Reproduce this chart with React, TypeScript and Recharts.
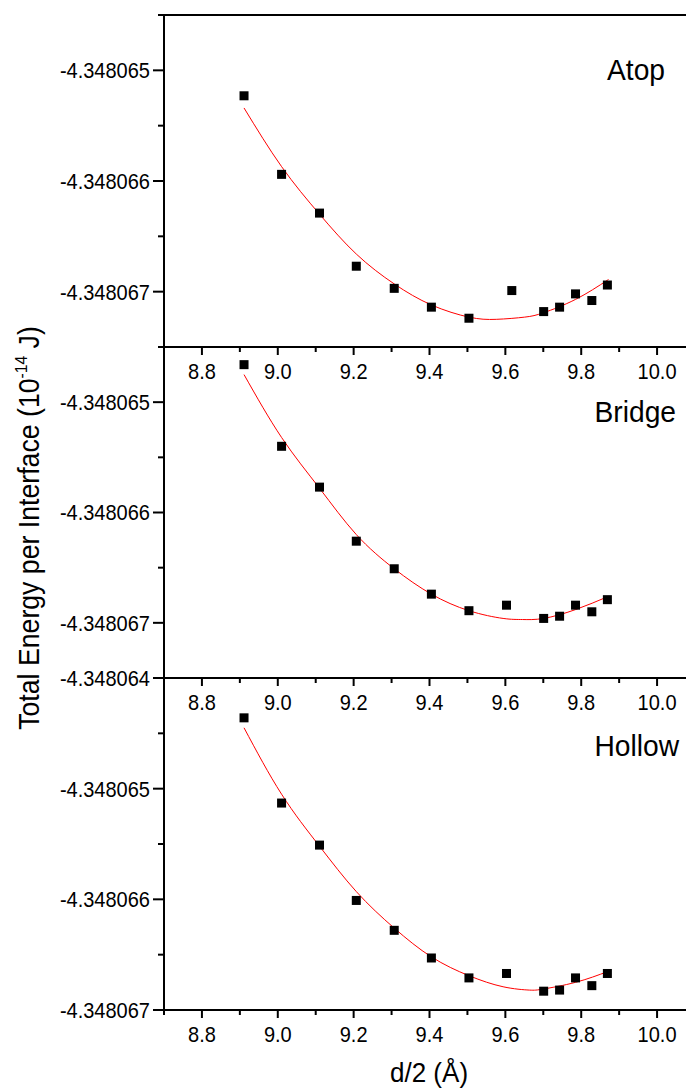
import React from "react";
import { ComposedChart, XAxis, YAxis, Scatter, Line, ReferenceLine } from "recharts";

// ---------- data ----------
const xAtop = [8.911, 9.01, 9.11, 9.207, 9.307, 9.405, 9.504, 9.617, 9.701, 9.743, 9.785, 9.828, 9.869];
const eAtop = [-4.34806523, -4.34806594, -4.34806629, -4.34806677, -4.34806697, -4.34806714, -4.34806724, -4.34806699, -4.34806718, -4.34806714, -4.34806702, -4.34806708, -4.34806694];

const xBridge = [8.911, 9.01, 9.11, 9.207, 9.307, 9.405, 9.504, 9.603, 9.701, 9.743, 9.785, 9.828, 9.869];
const eBridge = [-4.34806466, -4.3480654, -4.34806577, -4.34806626, -4.34806651, -4.34806674, -4.34806689, -4.34806684, -4.34806696, -4.34806694, -4.34806684, -4.3480669, -4.34806679];

const xHollow = [8.911, 9.01, 9.11, 9.207, 9.307, 9.405, 9.504, 9.603, 9.701, 9.743, 9.785, 9.828, 9.869];
const eHollow = [-4.34806436, -4.34806513, -4.34806551, -4.34806601, -4.34806628, -4.34806653, -4.34806671, -4.34806667, -4.34806683, -4.34806682, -4.34806671, -4.34806678, -4.34806667];

const fitXAtop = [8.911, 9.01, 9.11, 9.207, 9.307, 9.405, 9.504, 9.576, 9.651, 9.701, 9.785, 9.872];
const fitEAtop = [-4.34806534, -4.34806587, -4.3480663, -4.34806666, -4.34806693, -4.34806712, -4.34806723, -4.34806725, -4.34806723, -4.34806719, -4.34806707, -4.34806689];

const fitXBridge = [8.911, 9.01, 9.11, 9.207, 9.307, 9.405, 9.504, 9.594, 9.645, 9.701, 9.785, 9.872];
const fitEBridge = [-4.34806475, -4.34806532, -4.34806578, -4.3480662, -4.34806651, -4.34806674, -4.34806689, -4.34806696, -4.34806697, -4.34806696, -4.34806688, -4.34806676];

const fitXHollow = [8.911, 9.01, 9.11, 9.207, 9.307, 9.405, 9.504, 9.594, 9.663, 9.701, 9.785, 9.872];
const fitEHollow = [-4.34806445, -4.34806505, -4.34806552, -4.34806593, -4.34806626, -4.34806652, -4.34806669, -4.34806679, -4.34806682, -4.34806681, -4.34806675, -4.34806665];

const xTicks = [8.7, 8.8, 8.9, 9.0, 9.1, 9.2, 9.3, 9.4, 9.5, 9.6, 9.7, 9.8, 9.9, 10.0, 10.1];
const yTicksUpper = [-4.3480675, -4.348067, -4.3480665, -4.348066, -4.3480655, -4.348065, -4.3480645];
const yTicksHollow = [-4.348067, -4.3480665, -4.348066, -4.3480655, -4.348065, -4.3480645, -4.348064];

const panelLabels = ["Atop", "Bridge", "Hollow"];
const xTitle = "d/2 (Å)";
const yTitleMain = "Total Energy per Interface (10";
const yTitleSup = "-14";
const yTitleEnd = " J)";

// ---------- helpers ----------
const toRows = (xs: number[], es: number[]) => xs.map((x, i) => ({ x, e: es[i] }));
const FONT = "'Liberation Sans', Arial, Helvetica, sans-serif";
const TICK_FS = 22;
const TICK_SX = 0.91;
const LBL_FS = 30;
const LBL_SX = 0.94;

const isMajorY = (v: number) => Math.abs(v * 1e6 - Math.round(v * 1e6)) < 0.01;
const isMajorX = (v: number) => Math.round(v * 10) % 2 === 0;

const YTick = (props: any) => {
  const { x, y, payload } = props;
  const v = payload.value as number;
  const major = isMajorY(v);
  return (
    <g>
      <line x1={x - (major ? 11 : 6)} x2={x} y1={y} y2={y} stroke="#000" strokeWidth={2} />
      {major && (
        <text
          transform={`translate(${x - 14},${y}) scale(${TICK_SX},1)`}
          textAnchor="end"
          dy="0.36em"
          fontSize={TICK_FS}
          fontFamily={FONT}
          fill="#000"
        >
          {v.toFixed(6)}
        </text>
      )}
    </g>
  );
};

const XTick = (props: any) => {
  const { x, y, payload } = props;
  const v = payload.value as number;
  const major = isMajorX(v);
  return (
    <g>
      <line x1={x} x2={x} y1={y} y2={y + (major ? 8 : 5)} stroke="#000" strokeWidth={2} />
      {major && (
        <text
          transform={`translate(${x},${y + 24}) scale(${TICK_SX},1)`}
          textAnchor="middle"
          dy="0.36em"
          fontSize={TICK_FS}
          fontFamily={FONT}
          fill="#000"
        >
          {v.toFixed(1)}
        </text>
      )}
    </g>
  );
};

const SquareDot = (props: any) => {
  const { cx, cy } = props;
  if (cx == null || cy == null) return null;
  return <rect x={cx - 4.5} y={cy - 4.5} width={9} height={9} fill="#000" />;
};

const W = 720;
const H = 1088;

type PanelProps = {
  top: number;
  bottom: number;
  yDomain: [number, number];
  yTicks: number[];
  pts: { x: number; e: number }[];
  fit: { x: number; e: number }[];
  topLine?: boolean;
};

const Panel = ({ top, bottom, yDomain, yTicks, pts, fit, topLine }: PanelProps) => (
  <div style={{ position: "absolute", left: 0, top: 0, width: W, height: H }}>
    <ComposedChart
      width={W}
      height={H}
      margin={{ top, right: 25, bottom: H - bottom - 10, left: 0 }}
    >
      <XAxis
        dataKey="x"
        type="number"
        domain={[8.7, 10.1]}
        ticks={xTicks}
        interval={0}
        allowDataOverflow
        height={10}
        tickSize={0}
        tickMargin={0}
        tickLine={false}
        axisLine={{ stroke: "#000", strokeWidth: 2 }}
        tick={<XTick />}
      />
      <YAxis
        dataKey="e"
        type="number"
        domain={yDomain}
        ticks={yTicks}
        interval={0}
        allowDataOverflow
        width={164}
        tickSize={0}
        tickMargin={0}
        tickLine={false}
        axisLine={{ stroke: "#000", strokeWidth: 2 }}
        tick={<YTick />}
      />
      {topLine && <ReferenceLine y={yDomain[1]} stroke="#000" strokeWidth={2} />}
      <Line
        data={fit}
        dataKey="e"
        type="natural"
        stroke="#ff0000"
        strokeWidth={1}
        dot={false}
        activeDot={false}
        isAnimationActive={false}
      />
      <Scatter data={pts} dataKey="e" fill="#000" shape={<SquareDot />} isAnimationActive={false} />
    </ComposedChart>
  </div>
);

export default function App() {
  return (
    <div
      style={{
        position: "absolute",
        left: 0,
        top: 0,
        width: 686,
        height: 1088,
        overflow: "hidden",
        background: "#fff",
      }}
    >
      <Panel
        top={15}
        bottom={347}
        yDomain={[-4.3480675, -4.3480645]}
        yTicks={yTicksUpper}
        pts={toRows(xAtop, eAtop)}
        fit={toRows(fitXAtop, fitEAtop)}
        topLine
      />
      <Panel
        top={347}
        bottom={678}
        yDomain={[-4.3480675, -4.3480645]}
        yTicks={yTicksUpper}
        pts={toRows(xBridge, eBridge)}
        fit={toRows(fitXBridge, fitEBridge)}
      />
      <Panel
        top={678}
        bottom={1010}
        yDomain={[-4.348067, -4.348064]}
        yTicks={yTicksHollow}
        pts={toRows(xHollow, eHollow)}
        fit={toRows(fitXHollow, fitEHollow)}
      />
      <svg
        width={686}
        height={1088}
        style={{ position: "absolute", left: 0, top: 0, pointerEvents: "none" }}
      >
        <text transform={`translate(665,80) scale(${LBL_SX},1)`} textAnchor="end" fontSize={LBL_FS} fontFamily={FONT} fill="#000">
          {panelLabels[0]}
        </text>
        <text transform={`translate(676,422) scale(${LBL_SX},1)`} textAnchor="end" fontSize={LBL_FS} fontFamily={FONT} fill="#000">
          {panelLabels[1]}
        </text>
        <text transform={`translate(679,756) scale(${LBL_SX},1)`} textAnchor="end" fontSize={LBL_FS} fontFamily={FONT} fill="#000">
          {panelLabels[2]}
        </text>
        <text transform="translate(429,1082) scale(0.93,1)" textAnchor="middle" fontSize={28} fontFamily={FONT} fill="#000">
          {xTitle}
        </text>
        <text
          transform="translate(39,528) rotate(-90) scale(0.92,1)"
          textAnchor="middle"
          fontSize={29}
          fontFamily={FONT}
          fill="#000"
        >
          {yTitleMain}
          <tspan fontSize={17} dy={-12}>{yTitleSup}</tspan>
          <tspan dy={12}>{yTitleEnd}</tspan>
        </text>
      </svg>
    </div>
  );
}
